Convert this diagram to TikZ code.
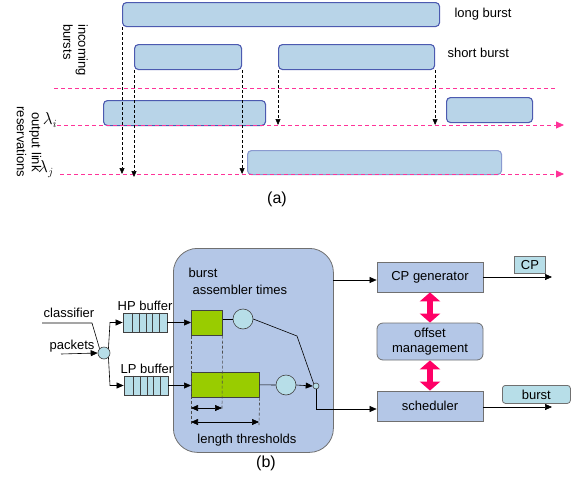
\documentclass[tikz,border=0pt]{standalone}
\usepackage{fontspec}
\setmainfont{Liberation Sans}
\usetikzlibrary{arrows.meta,calc}
\definecolor{bfill}{HTML}{B8D4E8}
\definecolor{bdraw}{HTML}{4C5AB0}
\definecolor{bdrawl}{HTML}{8A9AD0}
\definecolor{pinkl}{HTML}{FF3399}
\definecolor{pinkd}{HTML}{FF0066}
\definecolor{blk}{HTML}{B4C7E7}
\definecolor{cyanl}{HTML}{B7DEE8}
\definecolor{grn}{HTML}{99CC00}
\definecolor{gr}{HTML}{707070}
\begin{document}
\begin{tikzpicture}[x=1pt,y=-1pt,font=\fontsize{13}{15}\selectfont,
  burst/.style={draw=bdraw,fill=bfill,line width=1.1pt,rounded corners=4pt,inner sep=0pt,anchor=north west},
  pinkline/.style={draw=pinkl,dashed,dash pattern=on 4pt off 3pt,line width=0.8pt},
  pinkarr/.style={pinkline,-{Triangle[width=7pt,length=8pt]}},
  dashd/.style={draw=black,dash pattern=on 3pt off 2pt,line width=0.6pt,-{Triangle[width=5pt,length=6pt]}},
  blue/.style={draw=gr,fill=blk,line width=0.8pt,inner sep=0pt,minimum width=106pt,align=center},
  lab/.style={draw=gr,fill=cyanl,line width=0.8pt,inner sep=0pt,anchor=north west},
  ln/.style={draw=black,line width=0.6pt},
  arr/.style={ln,-{Triangle[width=6pt,length=7pt]}},
  dbl/.style={ln,{Triangle[width=6pt,length=7pt]}-{Triangle[width=6pt,length=7pt]}},
  circ/.style={circle,draw=black!75,fill=cyanl,line width=0.6pt,inner sep=0pt},
  green/.style={draw=black!75,fill=grn,line width=0.6pt,inner sep=0pt,anchor=north west},
  buf/.style={draw=black!75,fill=cyanl,line width=0.8pt,inner sep=0pt,minimum width=44pt,minimum height=19pt},
  fat/.style={draw=pinkd,line width=6pt,{Triangle[width=20pt,length=9pt]}-{Triangle[width=20pt,length=9pt]}},
  vdash/.style={draw=black!70,dash pattern=on 3pt off 2pt,line width=0.6pt},
  big/.style={font=\fontsize{16}{18}\selectfont}
]
\useasboundingbox (0,0) rectangle (576,480);

% ---------- (a) ----------
\node[burst,minimum width=317pt,minimum height=24pt] (lb) at (122,2) {};
\node[burst,minimum width=107pt,minimum height=25pt] (s1) at (134,44) {};
\node[burst,minimum width=156pt,minimum height=25pt] (s2) at (278,44) {};
\node[burst,minimum width=162pt,minimum height=25pt] (ri1) at (103,100) {};
\node[burst,minimum width=86pt,minimum height=25pt] (ri2) at (446,97) {};
\node[burst,draw=bdrawl,minimum width=254pt,minimum height=24pt] (rj) at (247,150) {};

\node[anchor=west] (tlong) at (451,14) {long burst};
\node[anchor=west] (tshort) at (444,53) {short burst};

\coordinate (sepA) at (54,88); \coordinate (sepB) at (557,88);
\draw[pinkline] (sepA) -- (sepB);
\coordinate (liA) at (57,125); \coordinate (liB) at (564,125);
\coordinate (ljA) at (60,174); \coordinate (ljB) at (564,174);
\draw[pinkarr] (liA) -- (liB);
\draw[pinkarr] (ljA) -- (ljB);

\node[big] (lami) at (50,120) {$\lambda_i$};
\node[big] (lamj) at (46,169) {$\lambda_j$};

\node[rotate=-90,align=left,anchor=north west,inner sep=0pt] (tin) at (88,24) {incoming\\bursts};
\node[rotate=-90,align=center,inner sep=0pt] (tout) at (29,142) {output link\\reservations};

\draw[dashd] (lb.south west) -- (lb.south west |- ljA);
\draw[dashd] (s1.south west) -- ($(s1.south west |- ljA)+(0,3)$);
\draw[dashd] (s1.south east) -- (s1.south east |- ljA);
\draw[dashd] (s2.south west) -- (s2.south west |- liA);
\draw[dashd] (s2.south east) -- (s2.south east |- liA);

\node[big] (ta) at (277,199) {(a)};

% ---------- (b) ----------
\node[draw=gr,fill=blk,line width=0.8pt,rounded corners=24pt,minimum width=160pt,minimum height=204pt,anchor=north west,inner sep=0pt] (asm) at (173,248) {};
\node[anchor=west] (tb1) at (185,273) {burst};
\node[anchor=west] (tb2) at (189,290) {assembler times};
\node (tlen) at (247,440) {length thresholds};

\node[green,minimum width=31pt,minimum height=25pt] (g1) at (191,310) {};
\node[green,minimum width=68pt,minimum height=25pt] (g2) at (191,372) {};
\node[circ,minimum size=20pt] (c1) at (243,319) {};
\node[circ,minimum size=20pt] (c2) at (286,385) {};
\node[circ,minimum size=6pt] (c3) at (316,386) {};

\draw[ln] (g1.east |- c1) -- (c1.west);
\coordinate (kink) at (297,336);
\draw[ln] (c1.east) -- (kink) -- (c3.north west);
\draw[ln] (g2.east) -- (c2.west);
\draw[arr] (c2.east) -- (c3.west);

\draw[vdash] (g1.south west) -- (191,425);
\draw[vdash] (g1.south east) -- (222,409);
\draw[vdash] (g2.south east) -- (259,425);
\coordinate (d1a) at (191,408); \coordinate (d1b) at (222,408);
\coordinate (d2a) at (191,422); \coordinate (d2b) at (259,422);
\draw[dbl] (d1a) -- (d1b);
\draw[dbl] (d2a) -- (d2b);

\node[blue,minimum height=30pt] (cpg) at (430,277) {CP generator};
\node[blue,minimum height=37pt,rounded corners=6pt] (off) at (430,341.5) {offset\\management};
\node[blue,minimum height=30pt] (sch) at (430,406) {scheduler};

\draw[fat] (cpg.south) -- (off.north);
\draw[fat] (off.south) -- (sch.north);

\coordinate (asmo) at (333,280);
\draw[arr] (asmo) -- (asmo -| cpg.west);
\draw[arr] (c3.south) |- ($(sch.west)+(0,3)$);

\coordinate (cpo) at (552,277);
\draw[arr] (cpg.east) -- (cpo);
\coordinate (bo) at (552,407);
\draw[arr] (sch.east |- bo) -- (bo);
\node[lab,minimum width=31pt,minimum height=17pt] (cpl) at (514,256) {};
\node (cpt) at (cpl.center) {CP};
\node[lab,rounded corners=3pt,minimum width=68pt,minimum height=18pt] (bl) at (502,385) {};
\node (blt) at (bl.center) {burst};

% left part
\node[circ,minimum size=12pt] (cl) at (104,353) {};
\node (tcl) at (69,313) {classifier};
\node (tpk) at (72,346) {packets};
\coordinate (clA) at (42,323); \coordinate (clB) at (92,323);
\draw[ln] (clA) -- (clB) -- (cl.north west);
\coordinate (pkA) at (61,354);
\draw[arr] (pkA) -- (cl.west);

\node[buf] (hp) at (145,322.5) {};
\node[buf] (lp) at (146,385.5) {};
\foreach \d in {10,17,24,30,37}{
  \draw[black!75,line width=0.8pt] ([xshift=\d pt]hp.north west) -- ([xshift=\d pt]hp.south west);
  \draw[black!75,line width=0.8pt] ([xshift=\d pt]lp.north west) -- ([xshift=\d pt]lp.south west);
}
\node (thp) at (145,306) {HP buffer};
\node (tlp) at (147,369) {LP buffer};

\coordinate (hk) at (110,322.5);
\coordinate (lk) at (110,385.5);
\draw[arr] (cl.north east) -- (hk) -- (hp.west);
\draw[arr] (cl.south east) -- (lk) -- (lp.west);
\draw[arr] (hp.east) -- (g1.west |- hp.east);
\draw[arr] (lp.east) -- (g2.west |- lp.east);

\node[big] (tbb) at (266,463) {(b)};
\end{tikzpicture}
\end{document}
